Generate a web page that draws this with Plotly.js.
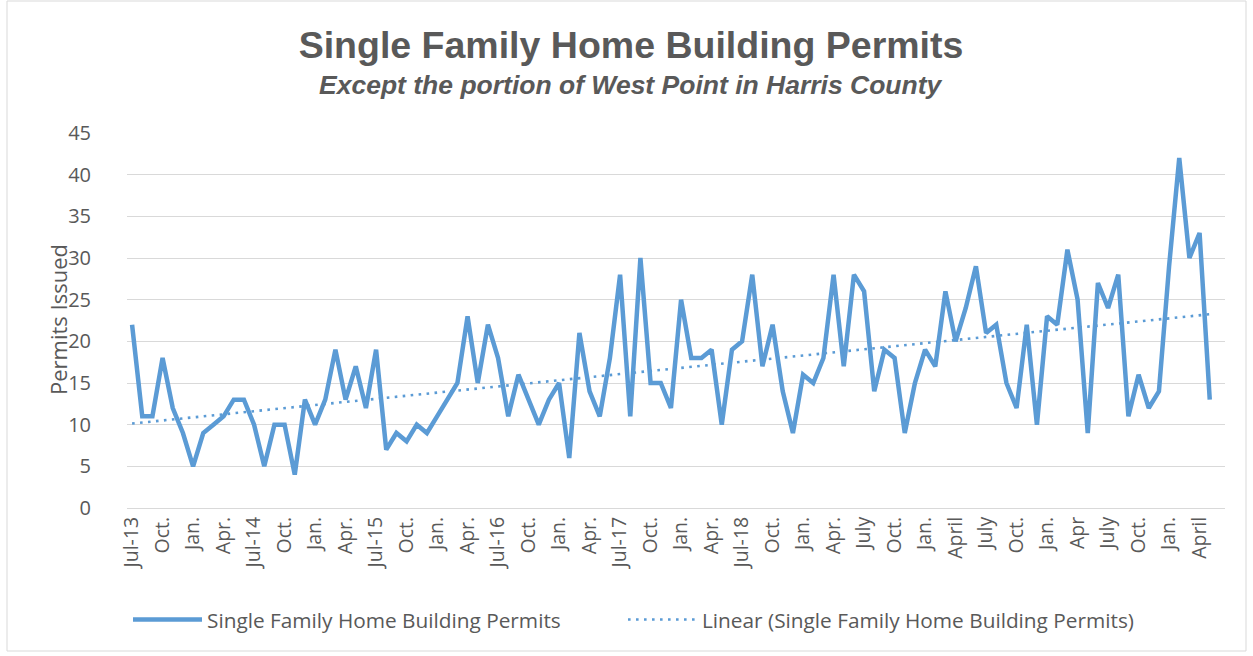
<!DOCTYPE html>
<html>
<head>
<meta charset="utf-8">
<script src="https://cdn.plot.ly/plotly-3.0.1.min.js"></script>
<style>
  html, body { margin: 0; padding: 0; background: #ffffff; }
  #chart { width: 1253px; height: 656px; }
</style>
</head>
<body>
<div id="chart"></div>
<script>
// Monthly permits, Jul 2013 – May 2022
const permits = [
  22, 11, 11, 18, 12, 9,                              // 2013 Jul-Dec
  5, 9, 10, 11, 13, 13, 10, 5, 10, 10, 4, 13,         // 2014
  10, 13, 19, 13, 17, 12, 19, 7, 9, 8, 10, 9,         // 2015
  11, 13, 15, 23, 15, 22, 18, 11, 16, 13, 10, 13,     // 2016
  15, 6, 21, 14, 11, 18, 28, 11, 30, 15, 15, 12,      // 2017
  25, 18, 18, 19, 10, 19, 20, 28, 17, 22, 14, 9,      // 2018
  16, 15, 18, 28, 17, 28, 26, 14, 19, 18, 9, 15,      // 2019
  19, 17, 26, 20, 24, 29, 21, 22, 15, 12, 22, 10,     // 2020
  23, 22, 31, 25, 9, 27, 24, 28, 11, 16, 12, 14,      // 2021
  29, 42, 30, 33, 13                                  // 2022 Jan-May
];

const tickLabels = [
  "Jul-13", "Oct.", "Jan.", "Apr.",
  "Jul-14", "Oct.", "Jan.", "Apr.",
  "Jul-15", "Oct.", "Jan.", "Apr.",
  "Jul-16", "Oct.", "Jan.", "Apr.",
  "Jul-17", "Oct.", "Jan.", "Apr.",
  "Jul-18", "Oct.", "Jan.", "Apr.",
  "July", "Oct.", "Jan.", "April",
  "July", "Oct.", "Jan.", "Apr",
  "July", "Oct.", "Jan.", "April"
];

const seriesName = "Single Family Home Building Permits";
const trendName = "Linear (Single Family Home Building Permits)";
const chartTitle = "Single Family Home Building Permits";
const chartSubtitle = "Except the portion of West Point in Harris County";
const yTitle = "Permits Issued";

// Month categories (Jul 2013 onward)
const months = permits.map((_, i) => {
  const m = 6 + i;
  const y = 2013 + Math.floor(m / 12);
  const mm = (m % 12) + 1;
  return y + "-" + String(mm).padStart(2, "0");
});
const tickVals = tickLabels.map((_, k) => months[k * 3]);

// Linear trend (least squares on month index)
const n = permits.length;
let sx = 0, sy = 0, sxx = 0, sxy = 0;
permits.forEach((v, i) => { sx += i; sy += v; sxx += i * i; sxy += i * v; });
const slope = (n * sxy - sx * sy) / (n * sxx - sx * sx);
const intercept = (sy - slope * sx) / n;
const trend = permits.map((_, i) => intercept + slope * i);

const blue = "#5b9bd5";
const grey = "#595959";
const font = "'Open Sans', 'Noto Sans', sans-serif";
const titleFont = "'Liberation Sans', Arial, sans-serif";

const L = 127, R = 28, T = 133, B = 148, W = 1253, H = 656;
const pw = W - L - R, ph = H - T - B;
const px = v => (v - L) / pw;
const py = v => (H - B - v) / ph;

const data = [
  {
    x: months, y: permits, type: "scatter", mode: "lines",
    name: seriesName, legend: "legend",
    line: { color: blue, width: 4.5, shape: "linear" },
    hoverinfo: "x+y"
  },
  {
    x: months, y: trend, type: "scatter", mode: "lines",
    name: trendName, legend: "legend2",
    line: { color: blue, width: 2.6, dash: "2.6px,5.4px" },
    hoverinfo: "skip"
  }
];

const legendBase = {
  orientation: "h",
  xref: "container", yref: "container",
  xanchor: "left",
  y: 1 - 620 / H, yanchor: "middle",
  font: { family: font, size: 20.8, color: grey },
  itemwidth: 69,
  bgcolor: "rgba(0,0,0,0)"
};

const layout = {
  width: W, height: H,
  margin: { l: L, r: R, t: T, b: B, pad: 0 },
  paper_bgcolor: "#ffffff",
  plot_bgcolor: "#ffffff",
  font: { family: font, color: grey, size: 19 },
  title: {
    text: "<b>" + chartTitle + "</b>",
    font: { family: titleFont, size: 37.5, color: grey },
    xref: "container", x: 631 / W, xanchor: "center",
    yref: "container", y: 1 - 45 / H, yanchor: "middle"
  },
  annotations: [
    {
      text: "<b><i>" + chartSubtitle + "</i></b>",
      xref: "paper", yref: "paper",
      x: px(631), y: py(85), xanchor: "center", yanchor: "middle",
      showarrow: false,
      font: { family: titleFont, size: 26.5, color: grey }
    },
    {
      text: yTitle,
      xref: "paper", yref: "paper",
      x: px(58), y: py(320), xanchor: "center", yanchor: "middle",
      textangle: -90, showarrow: false,
      font: { family: font, size: 22, color: grey }
    }
  ],
  xaxis: {
    type: "category",
    range: [-0.5, 107.5],
    tickmode: "array",
    tickvals: tickVals,
    ticktext: tickLabels,
    tickangle: -90,
    tickfont: { family: font, size: 19.5, color: grey },
    showgrid: false,
    showline: true, linecolor: "#d9d9d9", linewidth: 1,
    ticks: "", zeroline: false,
    fixedrange: true
  },
  yaxis: {
    range: [0, 45],
    tick0: 0, dtick: 5,
    tickfont: { family: font, size: 20, color: grey },
    gridcolor: "#d9d9d9", gridwidth: 1,
    zeroline: false, showline: false, ticks: "",
    ticklabelstandoff: 35,
    fixedrange: true
  },
  showlegend: true,
  legend: Object.assign({}, legendBase, { x: 128 / W }),
  legend2: Object.assign({}, legendBase, { x: 623 / W }),
  shapes: [{
    type: "rect", xref: "paper", yref: "paper",
    x0: px(7), x1: px(1246), y0: py(651), y1: py(1),
    line: { color: "#d9d9d9", width: 1 }, fillcolor: "rgba(0,0,0,0)",
    layer: "below"
  }],
  hovermode: "closest"
};

Plotly.newPlot("chart", data, layout, { displayModeBar: false });
</script>
</body>
</html>
